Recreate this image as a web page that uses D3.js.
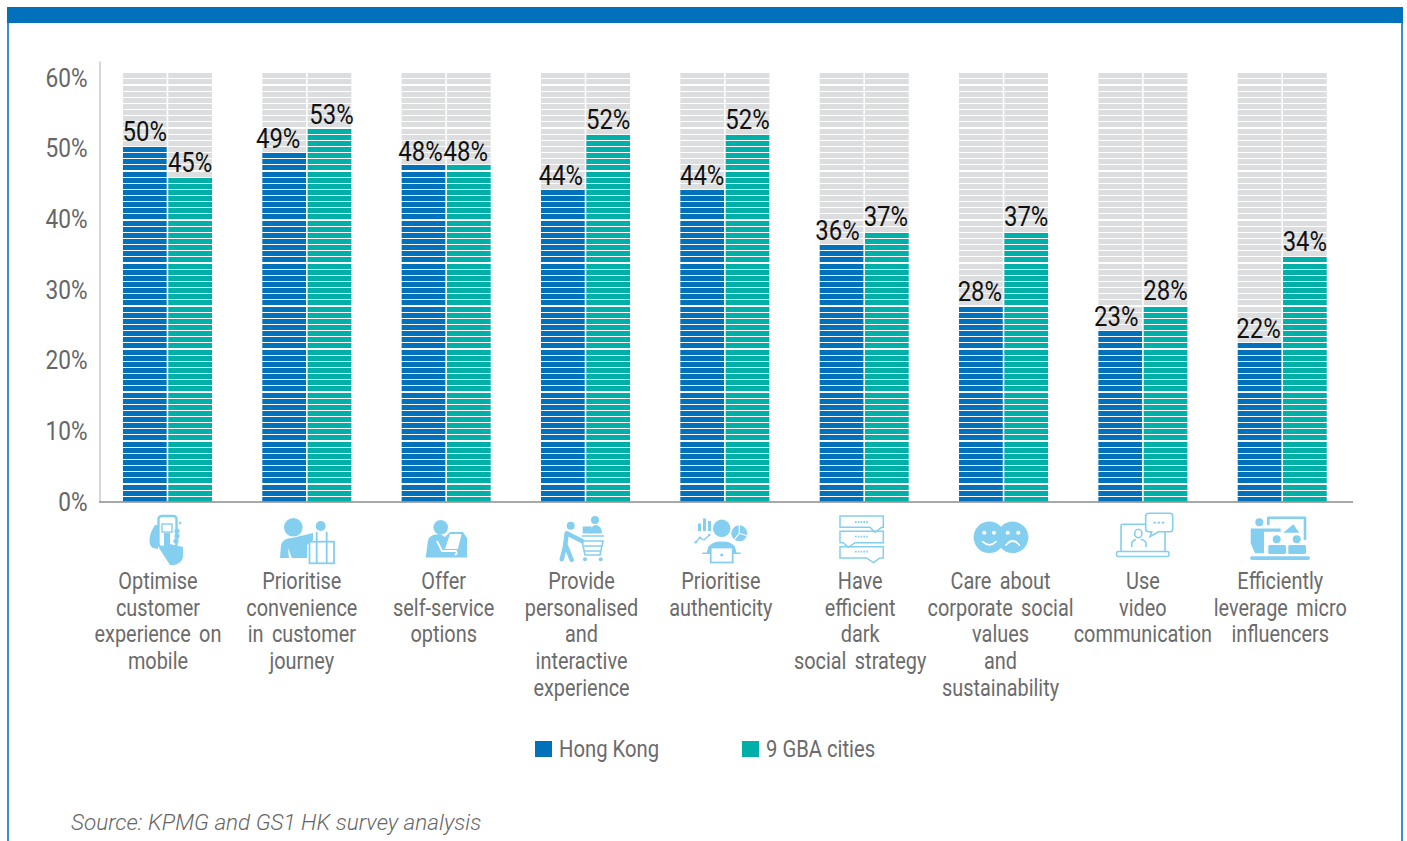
<!DOCTYPE html>
<html><head><meta charset="utf-8">
<script src="https://cdn.jsdelivr.net/npm/d3@7"></script>
<style>html,body{margin:0;padding:0;background:#fff;overflow:hidden}svg{display:block}
text{font-family:Roboto,sans-serif}</style></head><body>
<svg id="c" width="1407" height="841"></svg>
<script>
const categories=["Optimise customer experience on mobile","Prioritise convenience in customer journey","Offer self-service options","Provide personalised and interactive experience","Prioritise authenticity","Have efficient dark social strategy","Care about corporate social values and sustainability","Use video communication","Efficiently leverage micro influencers"];
const categoryLines=[["Optimise","customer","experience on","mobile"],["Prioritise","convenience","in customer","journey"],["Offer","self-service","options"],["Provide","personalised","and","interactive","experience"],["Prioritise","authenticity"],["Have","efficient","dark","social strategy"],["Care about","corporate social","values","and","sustainability"],["Use","video","communication"],["Efficiently","leverage micro","influencers"]];
const seriesNames=["Hong Kong","9 GBA cities"];
const hongKong=[50.35,49.5,47.7,44.1,44.1,36.4,27.7,24.2,22.5];
const gba=[46.0,53.0,47.7,52.0,52.0,38.2,38.2,27.7,34.7];
const hongKongLabels=["50%","49%","48%","44%","44%","36%","28%","23%","22%"];
const gbaLabels=["45%","53%","48%","52%","52%","37%","37%","28%","34%"];
const tickValues=[0,10,20,30,40,50,60];
const trackMax=60.8;

const labelNudgeHK=[0,-6,-3,-2,0,-4,-1,-4,-1], labelNudgeGBA=[0,2,-3,0,0,-1,0,0,0];
const labelLiftHK=[0,1,1,0,0,0,0,0,0], labelLiftGBA=[0,2,1,-1,-1,-1,-1,-1,-1];
const catLabelShift=[-9.5,-5,-2.5,-4,-4,-4,-3,0,-2];
const colors=["#0171bc","#00b0a8"], track="#dcdddf", icon="#84cfef";

const svg=d3.select("#c");
// frame
svg.append("rect").attr("x",8).attr("y",10).attr("width",1394).attr("height",840).attr("fill","none").attr("stroke","#3a8fd0").attr("stroke-width",2);
svg.append("rect").attr("x",7).attr("y",7).attr("width",1396).attr("height",16).attr("fill","#0171bc");

const base=502;
const y=d3.scaleLinear().domain([0,62.4]).range([base,61]);
const x0=d3.scaleBand().domain(categories).range([97.8,1351.9]).paddingInner(0.361).paddingOuter(0.1805);
const x1=d3.scaleBand().domain(seriesNames).range([0,x0.bandwidth()]).paddingInner(0.035);

const pitch=(base-y(trackMax))/70;
const stripes=d3.range(70);
const rows=categories.map((c,i)=>[{s:0,v:hongKong[i],l:hongKongLabels[i],n:labelNudgeHK[i],u:labelLiftHK[i]},{s:1,v:gba[i],l:gbaLabels[i],n:labelNudgeGBA[i],u:labelLiftGBA[i]}]);

const groups=svg.append("g").selectAll("g").data(categories).join("g").attr("transform",c=>`translate(${x0(c)},0)`);
const bars=groups.selectAll("g").data((c,i)=>rows[i]).join("g").attr("transform",d=>`translate(${x1(seriesNames[d.s])},0)`);
bars.selectAll("rect").data(d=>stripes.map(k=>({k,d}))).join("rect")
 .attr("x",0).attr("width",x1.bandwidth())
 .attr("y",e=>Math.round(base-(e.k+1)*pitch+1)).attr("height",5)
 .attr("fill",e=>(base-(e.k+1)*pitch+1)>=y(e.d.v)-1?colors[e.d.s]:track);
bars.append("text").attr("transform",d=>`translate(${x1.bandwidth()/2+d.n},${y(d.v)-5+d.u}) scale(.87,1)`)
 .attr("text-anchor","middle").attr("font-size",27.5).attr("fill","#111").text(d=>d.l);

// axes
const axL=svg.append("g").attr("transform","translate(99.5,0)").call(d3.axisLeft(y).tickValues(tickValues).tickSize(0).tickFormat(d=>d+"%"));
axL.attr("font-family",null);
axL.select(".domain").attr("stroke","#b0b0b0");
axL.selectAll("text").attr("x",null).attr("font-size",26).attr("fill","#666").attr("transform","translate(-12,0) scale(.87,1)");
svg.append("line").attr("x1",99).attr("x2",1353).attr("y1",base).attr("y2",base).attr("stroke","#999").attr("stroke-width",2).attr("stroke-opacity",.85);

// category labels
const lab=svg.append("g").attr("font-size",23).attr("fill","#6b6b6b").attr("text-anchor","middle").attr("word-spacing",4);
lab.selectAll("g").data(categories).join("g").attr("transform",(c,i)=>`translate(${x0(c)+x0.bandwidth()/2+catLabelShift[i]},0)`)
 .selectAll("text").data((c,i)=>categoryLines[i]).join("text").attr("transform",(t,j)=>`translate(0,${589+j*26.7}) scale(.865,1)`).text(t=>t);

// legend
const leg=svg.append("g").selectAll("g").data(seriesNames).join("g").attr("transform",(d,i)=>`translate(${535+i*207},0)`);
leg.append("rect").attr("y",741).attr("width",17).attr("height",16).attr("fill",(d,i)=>colors[i]);
leg.append("text").attr("transform","translate(24,757) scale(.88,1)").attr("font-size",23).attr("fill","#6b6b6b").text(d=>d);

svg.append("text").attr("x",71).attr("y",830).attr("font-style","italic").attr("font-weight",300).attr("font-size",22.5).attr("fill","#666").text("Source: KPMG and GS1 HK survey analysis");

// decorative pictograms
const art=`
<path d="M155,525C148,535 148,546 153,548L158,549L158,525Z"/>
<rect x="158.5" y="516" width="18" height="31" rx="3" fill="none" stroke="${icon}" stroke-width="2.4"/>
<rect x="162" y="524" width="10" height="8" fill="none" stroke="${icon}" stroke-width="1.4"/>
<path d="M164,533L164,548L159,548L170,565C176,566 183,562 183,556L183,547L170,544L170,533Z"/>
<circle cx="177" cy="531" r="2.6"/><circle cx="177" cy="536" r="2.6"/><circle cx="176" cy="541" r="2.6"/><circle cx="180" cy="523" r="1.2"/>

<circle cx="293.3" cy="527.3" r="9.3"/><circle cx="320.7" cy="526" r="5"/>
<path d="M280,558L281,545Q283,538 292,538L313,533L313,540L307,545L307,558L292,558L288,548L289,558Z"/>
<rect x="309.5" y="541.7" width="24.5" height="21.6" fill="#fff" stroke="${icon}" stroke-width="1.8"/>
<path d="M316.7,563V531.7M326.7,563V531.7" fill="none" stroke="${icon}" stroke-width="1.8"/>

<circle cx="440.7" cy="527.3" r="7.3"/>
<path d="M425.7,557.5L428,540Q430,534 440,534L445,537L450,532L463,532L467,538L467,557.5Z"/>
<path d="M450,534L461.5,534L458,549L445,549Z" fill="#fff"/>
<path d="M437,541L442,551L456,551Q458,553 455,555" fill="none" stroke="#fff" stroke-width="1.8"/>

<circle cx="570.7" cy="525.7" r="4"/><circle cx="595" cy="520" r="4"/>
<path d="M582,541L572,536L566.7,533.3L565,546.7L561.7,559.3M566,546L571.7,560" fill="none" stroke="${icon}" stroke-width="4.5" stroke-linejoin="round" stroke-linecap="round"/>
<path d="M590,533.5Q591,525 596,525Q602,526 602,533.5Z"/>
<rect x="582.7" y="526.5" width="9" height="7"/>
<path d="M581.7,536H604M581.7,541H603L600,555H585L582,541M584,546H601M585,551H600" fill="none" stroke="${icon}" stroke-width="1.6"/>
<circle cx="585" cy="559.3" r="2"/><circle cx="600.7" cy="559.3" r="2"/>

<circle cx="721.7" cy="528.3" r="8.7"/>
<rect x="698" y="523.5" width="3" height="7.5"/><rect x="703" y="518.5" width="3" height="12.5"/><rect x="708" y="521" width="3" height="10"/>
<circle cx="739.3" cy="533.3" r="8"/>
<path d="M739.3,533.3V524M739.3,533.3L748,536M739.3,533.3L734,540" stroke="#fff" stroke-width="1.2" fill="none"/>
<path d="M695.7,542.3L700,537.7L704,540L709.3,535" fill="none" stroke="${icon}" stroke-width="1.4"/>
<circle cx="695.7" cy="542.3" r="1.3"/><circle cx="700" cy="537.7" r="1.3"/><circle cx="709.3" cy="535" r="1.3"/>
<path d="M706.7,553.3L708.3,546.7Q714,541 721.7,541.7Q730,541 735,546.7L736.7,553.3Z"/>
<rect x="710.7" y="547.5" width="22" height="15" fill="#fff" stroke="${icon}" stroke-width="1.8"/>
<circle cx="721.7" cy="555" r="1.6"/>
<path d="M702.3,553.3H710M733,553.3H740.7" stroke="${icon}" stroke-width="1.6"/>

<g fill="none" stroke="${icon}" stroke-width="1.5">
<path d="M840,516H883.3V527.3H881.7L875,532.3L870,527.3H840Z"/>
<path d="M840,531.3H883.3V542.7H855L848.3,547.3L843.3,542.7H840Z"/>
<path d="M840,546.7H883.3V558H880L873.3,562.7L866.7,558H840Z"/>
<path d="M855,522H869M855,536.7H869M855,551.7H869" stroke-dasharray="1.6 1.2" stroke-width="1.8"/>
</g>

<circle cx="989.3" cy="537.3" r="15.7"/><circle cx="1012.7" cy="537.3" r="15.7"/>
<g fill="#fff"><circle cx="984.3" cy="532.7" r="2"/><circle cx="994" cy="532.7" r="2"/><circle cx="1007.7" cy="532.7" r="2"/><circle cx="1018.3" cy="532.7" r="2"/></g>
<path d="M982.7,541.7Q989.3,548 996,541.7M1006,545Q1012.7,537 1019.3,545" fill="none" stroke="#fff" stroke-width="1.8" stroke-linecap="round"/>

<g fill="none" stroke="${icon}" stroke-width="1.6">
<rect x="1121" y="524.3" width="44" height="27.4" rx="1.5"/>
<rect x="1116.5" y="551.5" width="52.5" height="5" rx="2" fill="#fff"/>
<path d="M1149,513.3H1170Q1172.7,513.3 1172.7,516V529Q1172.7,531.7 1170,531.7H1158.3L1150,536.7L1151.7,531.7H1149Q1145.7,531.7 1145.7,529V516Q1145.7,513.3 1149,513.3Z" fill="#fff"/>
<path d="M1153.3,522.7H1165" stroke-dasharray="2.6 1.6" stroke-width="1.8"/>
<ellipse cx="1138.3" cy="533.5" rx="3.6" ry="4.2"/>
<path d="M1131.7,547V543Q1133,540 1136,539.5M1140.5,539.5Q1145,540 1146,543V547"/>
</g>

<circle cx="1259.3" cy="522.3" r="4"/>
<path d="M1250.7,528.5H1280.7V531.7H1264V553.3H1255L1250.7,543.3Z"/>
<path d="M1268.3,525V517.7H1305V540" fill="none" stroke="${icon}" stroke-width="2.6" stroke-linejoin="round"/>
<path d="M1283.3,532.7L1293.3,524.3L1299.3,532.7Z"/>
<circle cx="1276.7" cy="539.3" r="4"/><circle cx="1296.7" cy="539.3" r="4"/>
<rect x="1268.3" y="545" width="17.7" height="9" rx="1.5"/><rect x="1288.3" y="545" width="17.7" height="9" rx="1.5"/>
<rect x="1250" y="556.3" width="60" height="3.6" rx="1.8"/>`;
svg.append("g").attr("fill",icon).html(art);
</script></body></html>
